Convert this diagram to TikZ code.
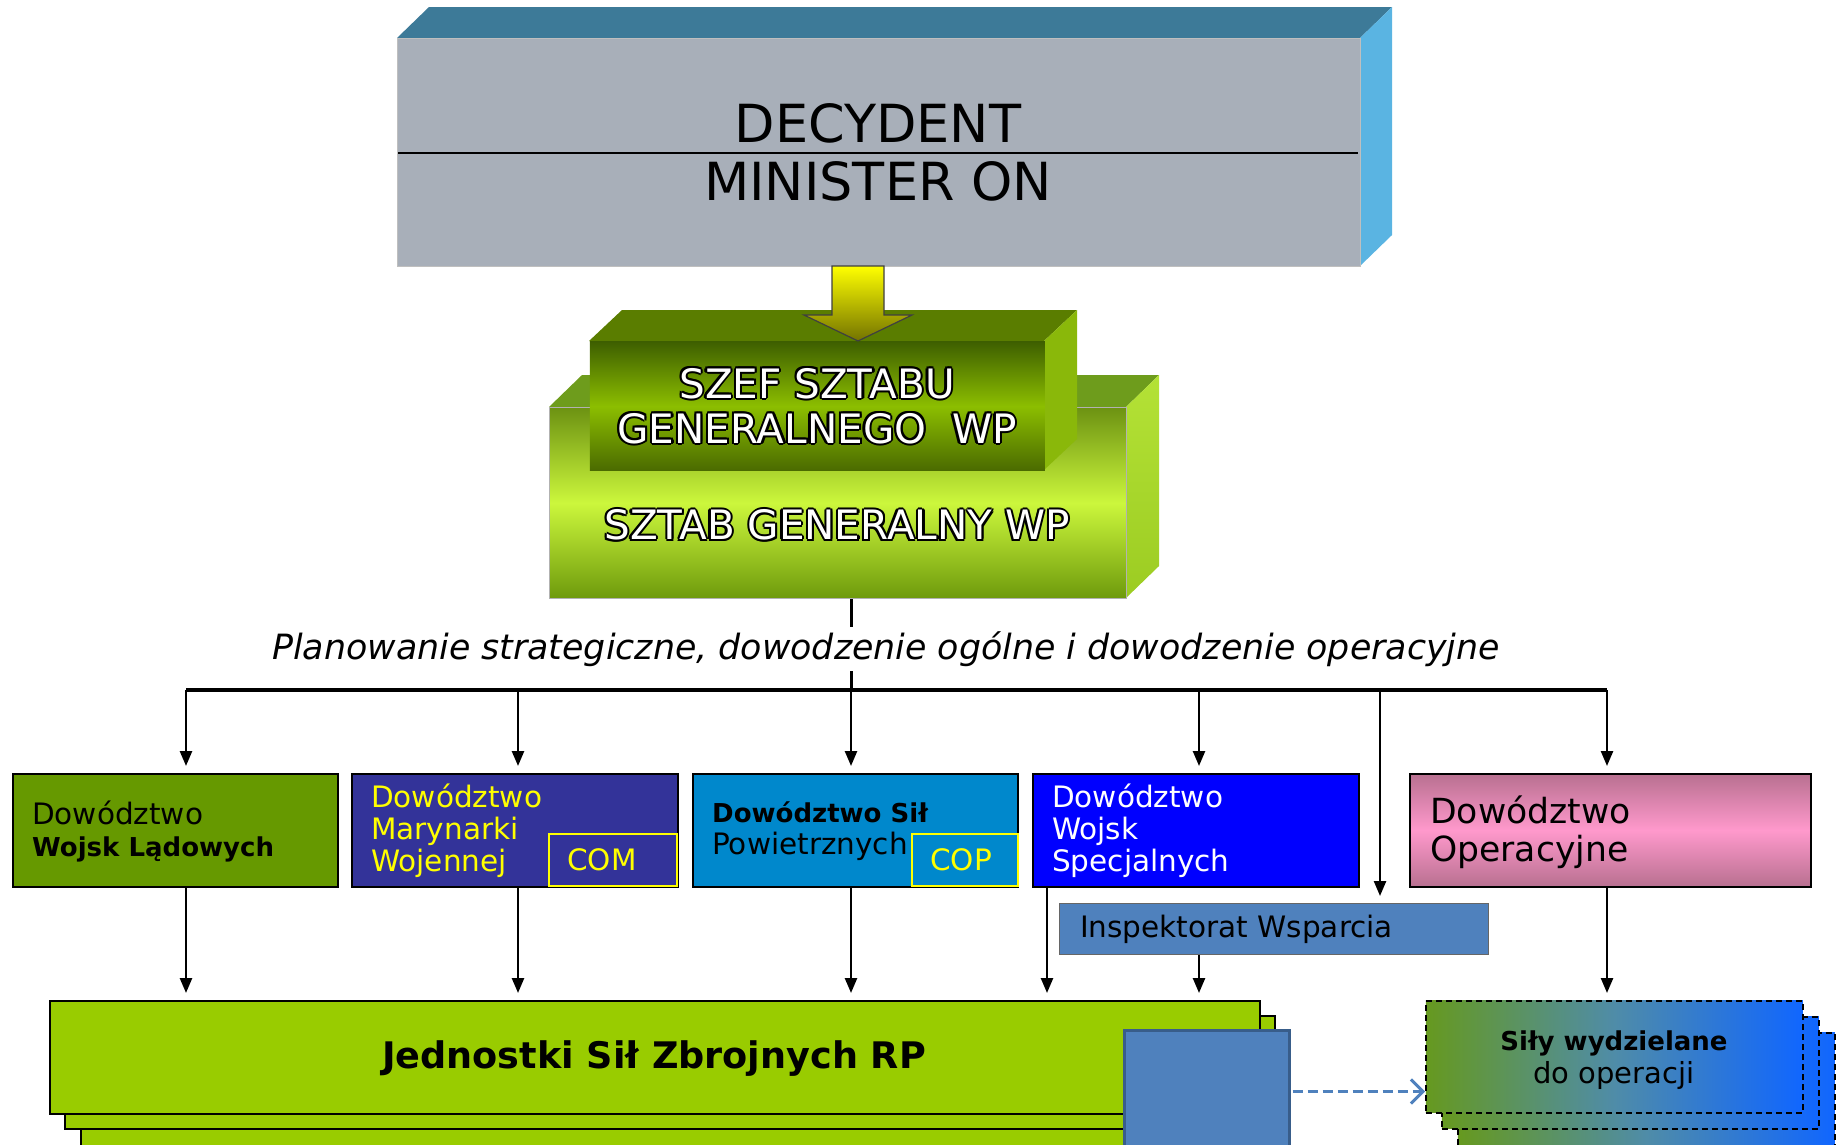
\documentclass[tikz,border=0pt]{standalone}
\usepackage{fontspec}
\setmainfont{DejaVu Sans}
\usetikzlibrary{arrows.meta,calc}
\definecolor{boxgrey}{HTML}{A8AFB9}
\definecolor{topblue}{HTML}{3D7A98}
\definecolor{sideblue}{HTML}{5AB4E2}
\definecolor{armyg}{HTML}{669900}
\definecolor{navyb}{HTML}{333399}
\definecolor{airb}{HTML}{0088CC}
\definecolor{specb}{HTML}{0000FF}
\definecolor{steel}{HTML}{4F81BD}
\definecolor{steeldark}{HTML}{385D8A}
\definecolor{limeg}{HTML}{99CC00}
\definecolor{pinkmid}{HTML}{FF99CC}
\definecolor{pinkedge}{HTML}{B87090}
\definecolor{yel}{HTML}{FFFF00}
\definecolor{sztabtop}{HTML}{6E9C1C}
\definecolor{sztabsideA}{HTML}{B4E236}
\definecolor{sztabsideB}{HTML}{9CCC22}
\definecolor{sztabA}{HTML}{6C9212}
\definecolor{sztabB}{HTML}{CCF73C}
\definecolor{sztabC}{HTML}{6E9A0C}
\definecolor{szeftop}{HTML}{5A7D00}
\definecolor{szefside}{HTML}{8AB80A}
\definecolor{szefA}{HTML}{3E5F00}
\definecolor{szefB}{HTML}{8CBE00}
\definecolor{szefC}{HTML}{4A6A00}
\definecolor{silyL}{HTML}{66991F}
\definecolor{silyM}{HTML}{4F8CA8}
\definecolor{silyR}{HTML}{1066FF}
\newcommand\glowtext[3]{%
  \foreach \gx/\gy in {-2.2/0,2.2/0,0/-2.2,0/2.2,-1.6/-1.6,1.6/1.6,-1.6/1.6,1.6/-1.6}{%
    \node[glow, text=black] at ($(#2)+(\gx,\gy)$) {#3};}
  \node[glow, text=white] (#1) at (#2) {#3};}
\newcommand\bxb[1]{{\bfseries\fontsize{26}{32}\selectfont #1}}
\begin{document}
\begin{tikzpicture}[x=1pt,y=-1pt,
  box/.style={draw=black, line width=1.5pt, anchor=north west, inner sep=0pt},
  arr/.style={draw=black, line width=2.5pt, -{Triangle[length=15pt,width=12pt]}, shorten >=7pt},
  lbl/.style={anchor=west, align=left, inner sep=0pt, font=\fontsize{29.5}{32}\selectfont},
  glow/.style={align=center, inner sep=0pt, font=\fontsize{40.5}{45}\selectfont},
  stackj/.style={box, fill=limeg, line width=1.5pt},
  stacks/.style={box, dashed, dash pattern=on 6pt off 4pt, line width=1.5pt, left color=silyL, right color=silyR, middle color=silyM},
]
\useasboundingbox (0,0) rectangle (1843,1144);

% ---- top box
\fill[topblue] (397,38) -- (429,7) -- (1392,7) -- (1360,38) -- cycle;
\fill[sideblue] (1360,38) -- (1392,7) -- (1392,235) -- (1360,266) -- cycle;
\node[box, draw=black!25, line width=1pt, fill=boxgrey, minimum width=963pt, minimum height=228pt] (dec) at (397,38) {};
\draw[line width=1.5pt] (398,153) -- (1358,153);
\node[font=\fontsize{52.5}{60}\selectfont, inner sep=0pt] (decy) at (878,123) {DECYDENT};
\node[font=\fontsize{52.5}{60}\selectfont, inner sep=0pt] (mon) at (878,181) {MINISTER ON};

% ---- SZTAB box
\fill[sztabtop] (549,407) -- (582,375) -- (1159,375) -- (1126,407) -- cycle;
\shade[top color=sztabsideA, bottom color=sztabsideB] (1126,407) -- (1159,375) -- (1159,566) -- (1126,598) -- cycle;
\node[box, draw=black!30, line width=1pt, minimum width=577pt, minimum height=191pt, top color=sztabA, bottom color=sztabC, middle color=sztabB] (sztab) at (549,407) {};
\coordinate (sztabtxt) at (837,525);
\glowtext{sztablbl}{sztabtxt}{SZTAB GENERALNY WP}

% ---- SZEF box
\fill[szeftop] (589,341) -- (622,310) -- (1077,310) -- (1044,341) -- cycle;
\fill[szefside] (1044,341) -- (1077,310) -- (1077,439) -- (1044,470) -- cycle;
\node[box, draw=none, minimum width=455pt, minimum height=129pt, top color=szefA, bottom color=szefC, middle color=szefB] (szef) at (589,341) {};
\coordinate (szeftxt) at (817,406);
\glowtext{szeflbl}{szeftxt}{SZEF SZTABU\\GENERALNEGO~~WP}

% ---- yellow block arrow
\shade[top color=yel, bottom color=yel!45!black, draw=black!75, line width=1.2pt]
  (832,266) -- (884,266) -- (884,315) -- (912,315) -- (858,341) -- (804,315) -- (832,315) -- cycle;

% ---- bus
\coordinate (busC) at (851,690);
\coordinate (busL) at (186,690);
\coordinate (busM) at (518,690);
\coordinate (busS) at (1199,690);
\coordinate (busI) at (1380,690);
\coordinate (busR) at (1607,690);
\draw[line width=3pt] (sztab.south -| busC) -- (busC);
\node[fill=white, inner sep=4pt, font=\itshape\fontsize{34.8}{40}\selectfont] (plan) at (886,649) {Planowanie strategiczne, dowodzenie ogólne i dowodzenie operacyjne};
\draw[line width=3.5pt] (busL) -- (busR);

% ---- command boxes
\node[box, fill=armyg, minimum width=325pt, minimum height=113pt] (dwl) at (12,773) {};
\node[lbl] (dwlt) at (32,831) {Dowództwo\\\bxb{Wojsk Lądowych}};

\node[box, fill=navyb, minimum width=326pt, minimum height=113pt] (dmw) at (351,773) {};
\node[lbl, text=yel] (dmwt) at (371,831) {Dowództwo\\Marynarki\\Wojennej};
\node[box, draw=yel, line width=1.5pt, minimum width=128pt, minimum height=52pt] (com) at (548,833) {};
\node[font=\fontsize{29.5}{32}\selectfont, text=yel, inner sep=0pt] (comt) at (602,860) {COM};

\node[box, fill=airb, minimum width=325pt, minimum height=113pt] (dsp) at (692,773) {};
\node[lbl] (dspt) at (712,831) {\bxb{Dowództwo Sił}\\Powietrznych};
\node[box, draw=yel, line width=1.5pt, fill=airb, minimum width=106pt, minimum height=52pt] (cop) at (911,833) {};
\node[font=\fontsize{29.5}{32}\selectfont, text=yel, inner sep=0pt] (copt) at (961,860) {COP};

\node[box, fill=specb, minimum width=326pt, minimum height=113pt] (dws) at (1032,773) {};
\node[lbl, text=white] (dwst) at (1052,831) {Dowództwo\\Wojsk\\Specjalnych};

\node[box, minimum width=401pt, minimum height=113pt, top color=pinkedge, bottom color=pinkedge, middle color=pinkmid] (dop) at (1409,773) {};
\node[lbl, font=\fontsize{34.6}{38}\selectfont] (dopt) at (1430,832) {Dowództwo\\Operacyjne};

\node[box, draw=black!60, line width=1pt, fill=steel, minimum width=429pt, minimum height=51pt] (insp) at (1059,903) {};
\node[lbl] (inspt) at (1080,929) {Inspektorat Wsparcia};

% ---- Jednostki stack
\node[stackj, minimum width=1209pt, minimum height=130pt] (jsz3) at (80,1030) {};
\node[stackj, minimum width=1210pt, minimum height=113pt] (jsz2) at (64,1015) {};
\node[stackj, minimum width=1210pt, minimum height=113pt] (jsz) at (49,1000) {};
\node[font=\bfseries\fontsize{36.6}{40}\selectfont, inner sep=0pt] (jszt) at (654,1059) {Jednostki Sił Zbrojnych RP};
\node[box, draw=steeldark, line width=3pt, fill=steel, minimum width=165pt, minimum height=122pt] (bsq) at (1123,1029) {};

% ---- Sily stack
\node[stacks, minimum width=377pt, minimum height=130pt] (sily3) at (1457,1032) {};
\node[stacks, minimum width=377pt, minimum height=112pt] (sily2) at (1441,1016) {};
\node[stacks, minimum width=377pt, minimum height=112pt] (sily) at (1425,1000) {};
\node[align=center, inner sep=0pt, font=\fontsize{29}{33}\selectfont] (silyt) at (1614,1060) {{\bfseries\fontsize{26}{33}\selectfont Siły wydzielane}\\do operacji};

% ---- arrows from bus
\draw[arr] (busL) -- (dwl.north -| busL);
\draw[arr] (busM) -- (dmw.north -| busM);
\draw[arr] (busC) -- (dsp.north -| busC);
\draw[arr] (busS) -- (dws.north -| busS);
\draw[arr] (busI) -- (insp.north -| busI);
\draw[arr] (busR) -- (dop.north -| busR);

% ---- arrows down
\draw[arr] (dwl.south -| busL) -- (jsz.north -| busL);
\draw[arr] (dmw.south -| busM) -- (jsz.north -| busM);
\draw[arr] (dsp.south -| busC) -- (jsz.north -| busC);
\draw[arr] ([xshift=15pt]dws.south west) -- ([xshift=15pt]dws.south west |- jsz.north);
\draw[arr] (insp.south -| busS) -- (jsz.north -| busS);
\draw[arr] (dop.south -| busR) -- (sily.north -| busR);

% ---- dashed arrow
\draw[steel, line width=3.5pt, dash pattern=on 10pt off 5pt, -{Straight Barb[length=12pt,width=24pt,line width=3pt]}] ([xshift=1.5pt]bsq.east) -- (sily.west |- bsq.east);
\end{tikzpicture}
\end{document}
